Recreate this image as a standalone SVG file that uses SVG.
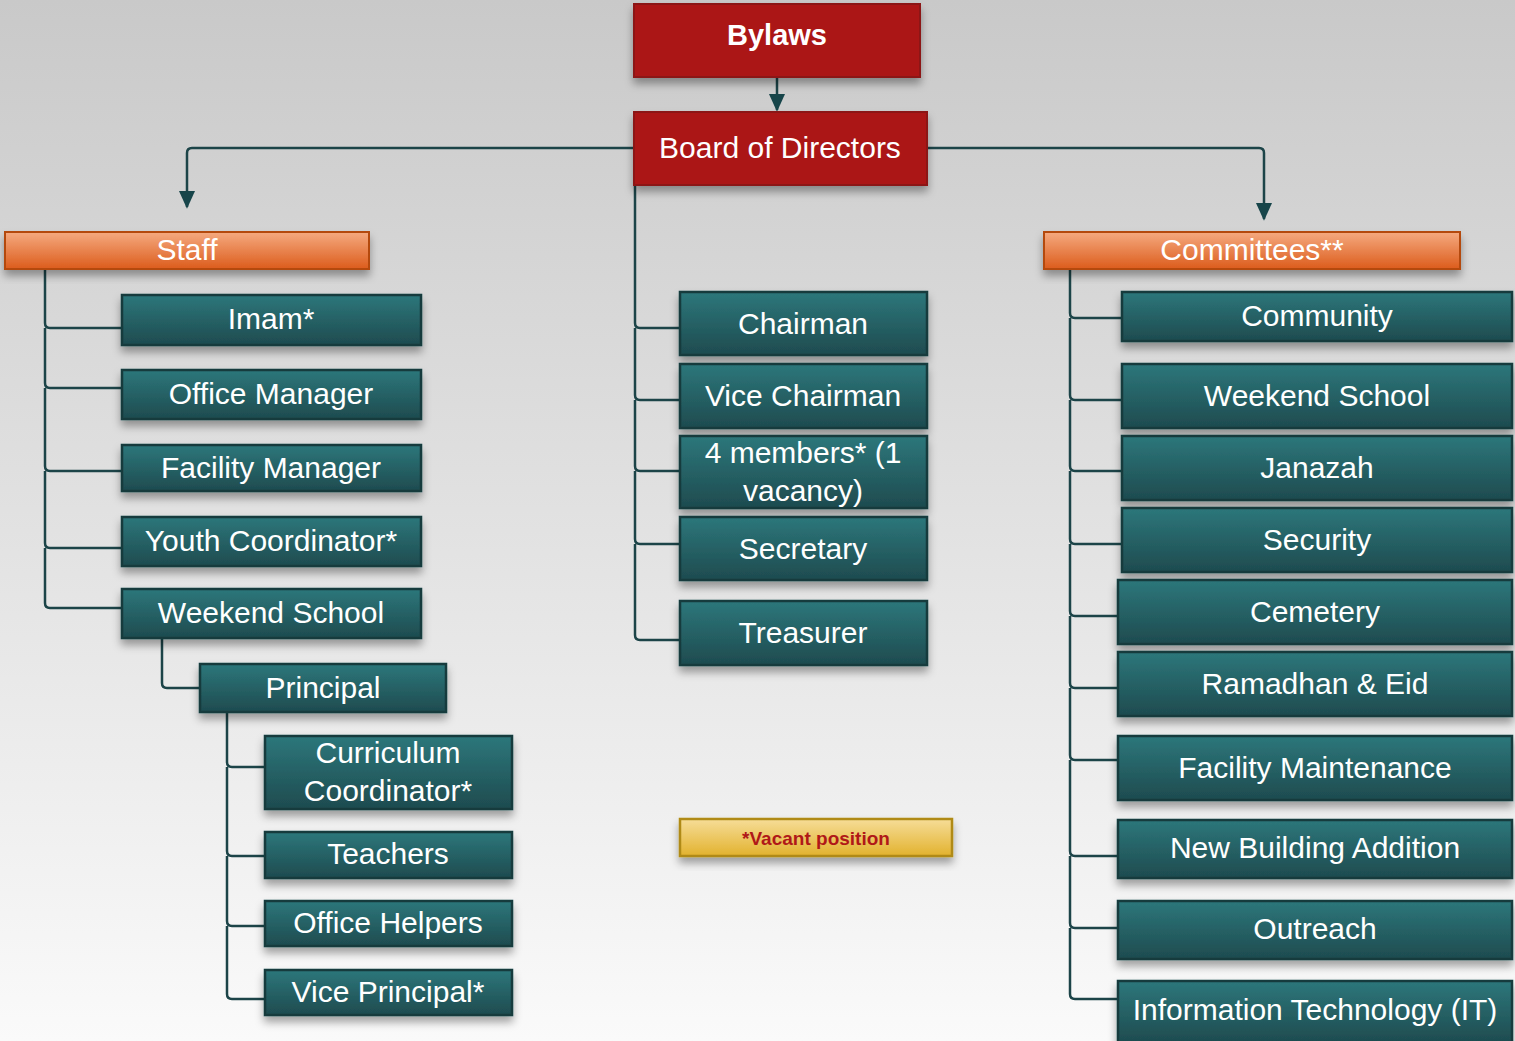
<svg xmlns="http://www.w3.org/2000/svg" width="1515" height="1041" viewBox="0 0 1515 1041">
<defs>
<linearGradient id="bg" x1="0" y1="0" x2="0" y2="1"><stop offset="0" stop-color="#c9c9c9"/><stop offset="1" stop-color="#fafafa"/></linearGradient>
<linearGradient id="teal" x1="0" y1="0" x2="0" y2="1"><stop offset="0" stop-color="#2d777b"/><stop offset="1" stop-color="#1e4b4f"/></linearGradient>
<linearGradient id="orange" x1="0" y1="0" x2="0" y2="1"><stop offset="0" stop-color="#f5aa80"/><stop offset="1" stop-color="#dc5c1c"/></linearGradient>
<linearGradient id="yellow" x1="0" y1="0" x2="0" y2="1"><stop offset="0" stop-color="#f6dd98"/><stop offset="1" stop-color="#e2b22e"/></linearGradient>
<filter id="sh" x="-10%" y="-20%" width="120%" height="160%"><feDropShadow dx="0" dy="6" stdDeviation="4" flood-color="#000" flood-opacity="0.35"/></filter>
<marker id="ah2" viewBox="0 0 10 10" refX="9" refY="5" markerWidth="18" markerHeight="18" orient="auto" markerUnits="userSpaceOnUse"><path d="M0,0.5 L10,5 L0,9.5 z" fill="#17454a"/></marker>
</defs>
<style>
.t{fill:url(#teal);stroke:#173b3e;stroke-width:2.5;filter:url(#sh)}
.r{fill:#ab1717;stroke:#8c1414;stroke-width:2;filter:url(#sh)}
.o{fill:url(#orange);stroke:#b44a10;stroke-width:2;filter:url(#sh)}
.y{fill:url(#yellow);stroke:#b08a14;stroke-width:2.5;filter:url(#sh)}
text{font-family:"Liberation Sans",Arial,sans-serif;fill:#fff;text-anchor:middle;font-size:30px}
.b{font-weight:bold;font-size:29px}
.v{fill:#b01818;font-size:19px;font-weight:bold}
.c{fill:none;stroke:#1c4448;stroke-width:2.5;stroke-linejoin:round}
</style>
<rect width="1515" height="1041" fill="url(#bg)"/>
<g id="connectors">
<path class="c" d="M777,77 V110" marker-end="url(#ah2)"/>
<path class="c" d="M634,148 H192 Q187,148 187,153 V207" marker-end="url(#ah2)"/>
<path class="c" d="M927,148 H1259 Q1264,148 1264,153 V219" marker-end="url(#ah2)"/>
<path class="c" d="M45,269 V323 Q45,328 50,328 H122 M45,328 V383 Q45,388 50,388 H122 M45,388 V466 Q45,471 50,471 H122 M45,471 V543 Q45,548 50,548 H122 M45,548 V603 Q45,608 50,608 H122"/>
<path class="c" d="M162,638 V683 Q162,688 167,688 H200"/>
<path class="c" d="M227,712 V762 Q227,767 232,767 H265 M227,767 V851 Q227,856 232,856 H265 M227,856 V921 Q227,926 232,926 H265 M227,926 V994 Q227,999 232,999 H265"/>
<path class="c" d="M635,185 V323 Q635,328 640,328 H680 M635,328 V395 Q635,400 640,400 H680 M635,400 V466 Q635,471 640,471 H680 M635,471 V539 Q635,544 640,544 H680 M635,544 V635 Q635,640 640,640 H680"/>
<path class="c" d="M1070,269 V313 Q1070,318 1075,318 H1122 M1070,318 V395 Q1070,400 1075,400 H1122 M1070,400 V466 Q1070,471 1075,471 H1122 M1070,471 V539 Q1070,544 1075,544 H1122 M1070,544 V611 Q1070,616 1075,616 H1118 M1070,616 V683 Q1070,688 1075,688 H1118 M1070,688 V755 Q1070,760 1075,760 H1118 M1070,760 V851 Q1070,856 1075,856 H1118 M1070,856 V923 Q1070,928 1075,928 H1118 M1070,928 V994 Q1070,999 1075,999 H1118"/>
</g>
<g id="bylaws"><rect class="r" x="634" y="4" width="286" height="73"/><text class="b" x="777" y="45">Bylaws</text></g>
<g id="board"><rect class="r" x="634" y="112" width="293" height="73"/><text x="780" y="158">Board of Directors</text></g>
<g id="staff"><rect class="o" x="5" y="232" width="364" height="37"/><text x="187" y="260">Staff</text></g>
<g id="committees"><rect class="o" x="1044" y="232" width="416" height="37"/><text x="1252" y="260">Committees**</text></g>
<g id="imam"><rect class="t" x="122" y="295" width="299" height="50"/><text x="271" y="329">Imam*</text></g>
<g id="office-manager"><rect class="t" x="122" y="370" width="299" height="49"/><text x="271" y="404">Office Manager</text></g>
<g id="facility-manager"><rect class="t" x="122" y="445" width="299" height="46"/><text x="271" y="478">Facility Manager</text></g>
<g id="youth-coordinator"><rect class="t" x="122" y="517" width="299" height="49"/><text x="271" y="551">Youth Coordinator*</text></g>
<g id="staff-weekend-school"><rect class="t" x="122" y="589" width="299" height="49"/><text x="271" y="623">Weekend School</text></g>
<g id="principal"><rect class="t" x="200" y="664" width="246" height="48"/><text x="323" y="698">Principal</text></g>
<g id="curriculum"><rect class="t" x="265" y="736" width="247" height="73"/><text x="388" y="763">Curriculum</text><text x="388" y="801">Coordinator*</text></g>
<g id="teachers"><rect class="t" x="265" y="832" width="247" height="46"/><text x="388" y="864">Teachers</text></g>
<g id="office-helpers"><rect class="t" x="265" y="901" width="247" height="45"/><text x="388" y="933">Office Helpers</text></g>
<g id="vice-principal"><rect class="t" x="265" y="970" width="247" height="45"/><text x="388" y="1002">Vice Principal*</text></g>
<g id="chairman"><rect class="t" x="680" y="292" width="247" height="63"/><text x="803" y="334">Chairman</text></g>
<g id="vice-chairman"><rect class="t" x="680" y="364" width="247" height="64"/><text x="803" y="406">Vice Chairman</text></g>
<g id="members"><rect class="t" x="680" y="436" width="247" height="72"/><text x="803" y="463">4 members* (1</text><text x="803" y="501">vacancy)</text></g>
<g id="secretary"><rect class="t" x="680" y="517" width="247" height="63"/><text x="803" y="559">Secretary</text></g>
<g id="treasurer"><rect class="t" x="680" y="601" width="247" height="64"/><text x="803" y="643">Treasurer</text></g>
<g id="vacant"><rect class="y" x="680" y="819" width="272" height="37"/><text class="v" x="816" y="845">*Vacant position</text></g>
<g id="community"><rect class="t" x="1122" y="292" width="390" height="49"/><text x="1317" y="326">Community</text></g>
<g id="com-weekend-school"><rect class="t" x="1122" y="364" width="390" height="64"/><text x="1317" y="406">Weekend School</text></g>
<g id="janazah"><rect class="t" x="1122" y="436" width="390" height="64"/><text x="1317" y="478">Janazah</text></g>
<g id="security"><rect class="t" x="1122" y="508" width="390" height="64"/><text x="1317" y="550">Security</text></g>
<g id="cemetery"><rect class="t" x="1118" y="580" width="394" height="64"/><text x="1315" y="622">Cemetery</text></g>
<g id="ramadhan"><rect class="t" x="1118" y="652" width="394" height="64"/><text x="1315" y="694">Ramadhan &amp; Eid</text></g>
<g id="facility-maintenance"><rect class="t" x="1118" y="736" width="394" height="64"/><text x="1315" y="778">Facility Maintenance</text></g>
<g id="new-building"><rect class="t" x="1118" y="820" width="394" height="58"/><text x="1315" y="858">New Building Addition</text></g>
<g id="outreach"><rect class="t" x="1118" y="901" width="394" height="58"/><text x="1315" y="939">Outreach</text></g>
<g id="it"><rect class="t" x="1118" y="981" width="394" height="62"/><text x="1315" y="1020">Information Technology (IT)</text></g>
</svg>
